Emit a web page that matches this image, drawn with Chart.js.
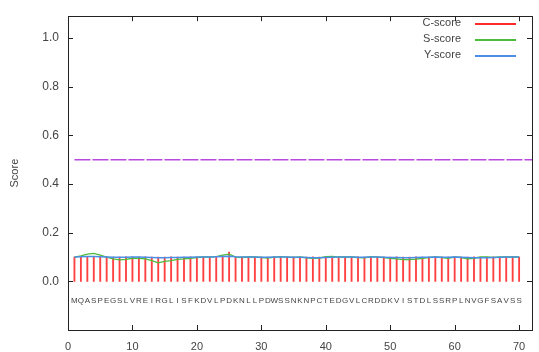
<!DOCTYPE html>
<html>
<head>
<meta charset="utf-8">
<script src="https://cdn.jsdelivr.net/npm/chart.js@4/dist/chart.umd.min.js"></script>
<style>
html,body{margin:0;padding:0;background:#fff;}
#wrap{width:539px;height:352px;position:relative;}
</style>
</head>
<body>
<div id="wrap"><canvas id="c" width="539" height="352"></canvas></div>
<script>
// ---- data ----
const positions = [1,2,3,4,5,6,7,8,9,10,11,12,13,14,15,16,17,18,19,20,21,22,23,24,25,26,27,28,29,30,31,32,33,34,35,36,37,38,39,40,41,42,43,44,45,46,47,48,49,50,51,52,53,54,55,56,57,58,59,60,61,62,63,64,65,66,67,68,69,70];
const residues = ["M","Q","A","S","P","E","G","S","L","V","R","E","I","R","G","L","I","S","F","K","D","V","L","P","D","K","N","L","L","P","D","W","S","S","N","K","N","P","C","T","E","D","G","V","L","C","R","D","D","K","V","I","S","T","D","L","S","S","R","P","L","N","V","G","F","S","A","V","S","S"];
const cScore = [0.100,0.101,0.102,0.101,0.100,0.101,0.100,0.100,0.101,0.100,0.100,0.101,0.100,0.100,0.100,0.101,0.100,0.100,0.101,0.100,0.101,0.100,0.102,0.104,0.120,0.101,0.100,0.101,0.100,0.100,0.100,0.101,0.100,0.100,0.101,0.100,0.100,0.101,0.100,0.100,0.101,0.100,0.100,0.100,0.101,0.100,0.100,0.101,0.100,0.100,0.101,0.100,0.100,0.101,0.100,0.100,0.101,0.100,0.100,0.101,0.100,0.100,0.101,0.100,0.100,0.101,0.100,0.100,0.101,0.100];
const sScore = [0.100,0.105,0.112,0.115,0.108,0.100,0.092,0.088,0.090,0.095,0.095,0.092,0.085,0.076,0.082,0.085,0.090,0.092,0.095,0.098,0.100,0.100,0.102,0.108,0.112,0.100,0.098,0.100,0.100,0.098,0.096,0.100,0.102,0.100,0.098,0.100,0.097,0.095,0.096,0.102,0.103,0.100,0.101,0.100,0.098,0.097,0.102,0.100,0.098,0.095,0.092,0.089,0.089,0.091,0.095,0.098,0.100,0.098,0.095,0.100,0.098,0.093,0.095,0.100,0.100,0.098,0.100,0.100,0.100,0.100];
const yScore = [0.100,0.101,0.102,0.102,0.101,0.100,0.099,0.099,0.099,0.100,0.100,0.099,0.098,0.097,0.097,0.098,0.098,0.099,0.099,0.100,0.100,0.100,0.101,0.102,0.103,0.101,0.100,0.100,0.100,0.099,0.099,0.100,0.100,0.100,0.099,0.099,0.098,0.097,0.097,0.098,0.099,0.100,0.100,0.100,0.099,0.099,0.100,0.100,0.099,0.098,0.098,0.097,0.097,0.098,0.099,0.099,0.100,0.099,0.099,0.100,0.099,0.098,0.097,0.097,0.097,0.098,0.099,0.100,0.100,0.100];
const thresholdX = [1, 72];
const thresholdY = [0.5, 0.5];
const xTicks = [0,10,20,30,40,50,60,70];
const yTicks = [0.0,0.2,0.4,0.6,0.8,1.0];
const seriesNames = ["C-score","S-score","Y-score"];

const COLORS = {c: '#ff2a2a', s: '#4cbb3c', y: '#4a8ee6', t: '#b848e0'};
const pts = (xs, ys) => xs.map((x, i) => ({x: x, y: ys[i]}));
const FONT = "'Liberation Sans', Arial, sans-serif";
const TXT = '#444444';

const framePlugin = {
  id: 'frame',
  afterDatasetsDraw(chart) {
    const {ctx, chartArea: a, scales: {x, y}} = chart;
    ctx.save();
    ctx.setLineDash([]);
    ctx.strokeStyle = '#222';
    ctx.lineWidth = 1;
    ctx.strokeRect(Math.round(a.left) + 0.5, Math.round(a.top) + 0.5, Math.round(a.right - a.left), Math.round(a.bottom - a.top));
    ctx.beginPath();
    yTicks.forEach(v => {
      const py = Math.round(y.getPixelForValue(v)) + 0.5;
      ctx.moveTo(a.left, py); ctx.lineTo(a.left + 5, py);
      ctx.moveTo(a.right, py); ctx.lineTo(a.right - 5, py);
    });
    xTicks.forEach(v => {
      const px = Math.round(x.getPixelForValue(v)) + 0.5;
      ctx.moveTo(px, a.bottom); ctx.lineTo(px, a.bottom - 5);
      ctx.moveTo(px, a.top); ctx.lineTo(px, a.top + 5);
    });
    ctx.stroke();
    ctx.fillStyle = TXT;
    ctx.font = '8px ' + FONT;
    ctx.textAlign = 'center';
    ctx.textBaseline = 'middle';
    const ly = y.getPixelForValue(-0.082);
    residues.forEach((r, i) => {
      ctx.fillText(r, x.getPixelForValue(positions[i]), ly);
    });
    ctx.font = '11px ' + FONT;
    ctx.textAlign = 'right';
    const legendColors = [COLORS.c, COLORS.s, COLORS.y];
    for (let i = 0; i < 3; i++) {
      const ry = 23 + i * 16;
      ctx.fillStyle = TXT;
      ctx.fillText(seriesNames[i], 461, ry);
      ctx.strokeStyle = legendColors[i];
      ctx.lineWidth = 2;
      ctx.beginPath();
      ctx.moveTo(475, ry + 1); ctx.lineTo(516, ry + 1);
      ctx.stroke();
    }
    ctx.restore();
  }
};

new Chart(document.getElementById('c'), {
  type: 'bar',
  data: {
    datasets: [
      {type: 'bar', label: seriesNames[0], data: pts(positions, cScore), backgroundColor: 'rgba(255,30,30,0.85)', borderWidth: 0, barThickness: 1.2, order: 4},
      {type: 'line', label: seriesNames[1], data: pts(positions, sScore), borderColor: COLORS.s, borderWidth: 1.3, pointRadius: 0, tension: 0, order: 3},
      {type: 'line', label: seriesNames[2], data: pts(positions, yScore), borderColor: COLORS.y, borderWidth: 1.6, pointRadius: 0, tension: 0, order: 2},
      {type: 'line', label: 'threshold', data: pts(thresholdX, thresholdY), borderColor: COLORS.t, borderWidth: 1.6, borderDash: [16, 2], pointRadius: 0, order: 1}
    ]
  },
  options: {
    responsive: false,
    animation: false,
    events: [],
    layout: {padding: {top: 13, right: 7, left: 0, bottom: 0}},
    plugins: {legend: {display: false}, tooltip: {enabled: false}},
    scales: {
      x: {
        type: 'linear', min: 0, max: 72, offset: false,
        grid: {display: false, drawTicks: false},
        border: {display: false},
        afterBuildTicks: s => { s.ticks = xTicks.map(v => ({value: v})); },
        afterFit: s => { s.height = 22; },
        ticks: {padding: 10, color: TXT, font: {family: FONT, size: 11}, maxRotation: 0, autoSkip: false}
      },
      y: {
        type: 'linear', min: -0.2, max: 1.09,
        grid: {display: false, drawTicks: false},
        border: {display: false},
        afterBuildTicks: s => { s.ticks = yTicks.map(v => ({value: v})); },
        afterFit: s => { s.width = 68; },
        ticks: {padding: 9, color: TXT, font: {family: FONT, size: 12}, callback: v => v.toFixed(1)},
        title: {display: true, text: 'Score', color: TXT, font: {family: FONT, size: 11}, padding: {top: 8, bottom: 0}}
      }
    }
  },
  plugins: [framePlugin]
});
</script>
</body>
</html>
